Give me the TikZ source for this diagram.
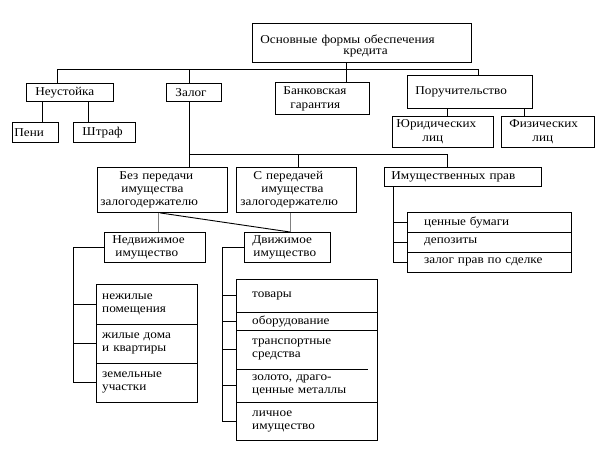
\documentclass[tikz,border=0pt]{standalone}
\usepackage{fontspec}
\setmainfont{Liberation Serif}[FakeStretch=1.1]
\begin{document}
\begin{tikzpicture}[x=1pt,y=-1pt,
  box/.style={draw, line width=0.9pt, anchor=north west, inner xsep=0pt, inner ysep=0pt, align=left, font=\fontsize{12}{13}\selectfont},
  cell/.style={anchor=north west, inner xsep=0pt, inner ysep=0pt, align=left, font=\fontsize{12}{13}\selectfont},
  link/.style={line width=0.9pt},
  glink/.style={line width=0.9pt, draw=gray}]
\path[fill=white] (0,0) rectangle (602,450);
\useasboundingbox (0,0) rectangle (602,450);
% level 1
\node[box, text width=219pt, minimum height=39pt, font=\fontsize{12}{11.5}\selectfont] (top) at (252,23) {\rule{0pt}{15pt}\hspace*{8pt}Основные формы обеспечения\\\hspace*{91pt}кредита};
% level 2
\node[box, text width=87pt, minimum height=18pt] (neu) at (26,83) {\hspace*{9pt}Неустойка};
\node[box, text width=55pt, minimum height=18pt] (zal) at (166,83) {\hspace*{9pt}Залог};
\node[box, text width=94pt, minimum height=32pt, font=\fontsize{12}{14}\selectfont] (bank) at (275,82) {\hspace*{8pt}Банковская\\\hspace*{15pt}гарантия};
\node[box, text width=125pt, minimum height=33pt] (por) at (407,75) {\hspace*{8pt}Поручительство};
\node[box, text width=46pt, minimum height=20pt] (pen) at (12,122) {\hspace*{2pt}Пени};
\node[box, text width=62pt, minimum height=20pt] (shtr) at (73,122) {\hspace*{9pt}Штраф};
\node[box, text width=101pt, minimum height=31pt, font=\fontsize{12}{14}\selectfont] (yur) at (392,116) {\hspace*{4pt}Юридических\\\hspace*{30pt}лиц};
\node[box, text width=93pt, minimum height=31pt, font=\fontsize{12}{14}\selectfont] (fiz) at (501,116) {\hspace*{8pt}Физических\\\hspace*{31pt}лиц};
% level 3
\node[box, text width=130pt, minimum height=45pt] (bez) at (97,167) {\hspace*{22pt}Без передачи\\\hspace*{24pt}имущества\\\hspace*{3pt}залогодержателю};
\node[box, text width=120pt, minimum height=45pt] (spe) at (236,167) {\hspace*{17pt}С передачей\\\hspace*{25pt}имущества\\\hspace*{4pt}залогодержателю};
\node[box, text width=157pt, minimum height=19pt] (imp) at (384,167) {\hspace*{7pt}Имущественных прав};
\node[box, text width=101pt, minimum height=30pt] (ned) at (104,232) {\hspace*{8pt}Недвижимое\\\hspace*{11pt}имущество};
\node[box, text width=86pt, minimum height=30pt] (dvi) at (244,232) {\hspace*{8pt}Движимое\\\hspace*{9pt}имущество};
% real property list
\node[cell, text width=101pt, minimum height=40pt] (r1) at (96,284) {\hspace*{6pt}нежилые\\\hspace*{6pt}помещения};
\node[cell, text width=101pt, minimum height=39pt] (r2) at (96,324) {\hspace*{6pt}жилые дома\\\hspace*{6pt}и квартиры};
\node[cell, text width=101pt, minimum height=39pt] (r3) at (96,363) {\hspace*{6pt}земельные\\\hspace*{6pt}участки};
\draw[link] (r1.north west) rectangle (r3.south east);
\draw[link] (r1.south west) -- (r1.south east);
\draw[link] (r2.south west) -- (r2.south east);
% movable list
\node[cell, text width=141pt, minimum height=33pt] (m1) at (236,279) {\hspace*{16pt}товары};
\node[cell, text width=141pt, minimum height=18pt] (m2) at (236,312) {\hspace*{16pt}оборудование};
\node[cell, text width=141pt, minimum height=39pt] (m3) at (236,330) {\hspace*{16pt}транспортные\\\hspace*{16pt}средства};
\node[cell, text width=141pt, minimum height=33pt] (m4) at (236,369) {\hspace*{16pt}золото, драго-\\\hspace*{16pt}ценные металлы};
\node[cell, text width=141pt, minimum height=38pt] (m5) at (236,402) {\hspace*{16pt}личное\\\hspace*{16pt}имущество};
\draw[link] (m1.north west) rectangle (m5.south east);
\draw[link] (m1.south west) -- (m1.south east);
\draw[link] (m2.south west) -- (m2.south east);
\draw[link] (m3.south west) -- ++(132,0);
\draw[link] (m4.south west) -- (m4.south east);
% rights list
\node[cell, text width=164pt, minimum height=20pt] (q1) at (407,212) {\hspace*{17pt}ценные бумаги};
\node[cell, text width=164pt, minimum height=20pt] (q2) at (407,232) {\hspace*{17pt}депозиты};
\node[cell, text width=164pt, minimum height=20pt] (q3) at (407,252) {\hspace*{17pt}залог прав по сделке};
\draw[link] (q1.north west) rectangle (q3.south east);
\draw[link] (q1.south west) -- (q1.south east);
\draw[link] (q2.south west) -- (q2.south east);
% connectors level 1-2
\draw[link] (346,0 |- top.south) -- (346,0 |- bank.north);
\draw[link] (57,0 |- neu.north) -- (57,69) -- (478,69) -- (478,0 |- por.north);
\draw[link] (189,69) -- (189,0 |- zal.north);
\draw[link] (42,0 |- neu.south) -- (42,0 |- pen.north);
\draw[link] (88,0 |- neu.south) -- (88,0 |- shtr.north);
\draw[link] (447,0 |- por.south) -- (447,0 |- yur.north);
\draw[link] (524,0 |- por.south) -- (524,0 |- fiz.north);
% connectors level 2-3
\draw[link] (189,0 |- zal.south) -- (189,0 |- bez.north);
\draw[link] (189,154) -- (447,154) -- (447,0 |- imp.north);
\draw[link] (298,154) -- (298,0 |- spe.north);
\draw[glink] (158,0 |- bez.south) -- (158,0 |- ned.north);
\draw[glink] (290,0 |- spe.south) -- (290,0 |- dvi.north);
\draw[link] (160,0 |- bez.south) -- (290,0 |- dvi.north);
% brackets
\draw[link] (ned.west) -- (73,0 |- ned.west) -- (73,0 |- r3.west) -- (r3.west);
\draw[link] (73,0 |- r1.west) -- (r1.west);
\draw[link] (73,0 |- r2.west) -- (r2.west);
\draw[link] (dvi.west) -- (222,0 |- dvi.west) -- (222,0 |- m5.west) -- (m5.west);
\draw[link] (222,0 |- m1.west) -- (m1.west);
\draw[link] (222,0 |- m2.west) -- (m2.west);
\draw[link] (222,0 |- m3.west) -- (m3.west);
\draw[link] (222,0 |- m4.west) -- (m4.west);
\draw[link] (393,0 |- imp.south) -- (393,0 |- q3.west) -- (q3.west);
\draw[link] (393,0 |- q1.west) -- (q1.west);
\draw[link] (393,0 |- q2.west) -- (q2.west);
\end{tikzpicture}
\end{document}
